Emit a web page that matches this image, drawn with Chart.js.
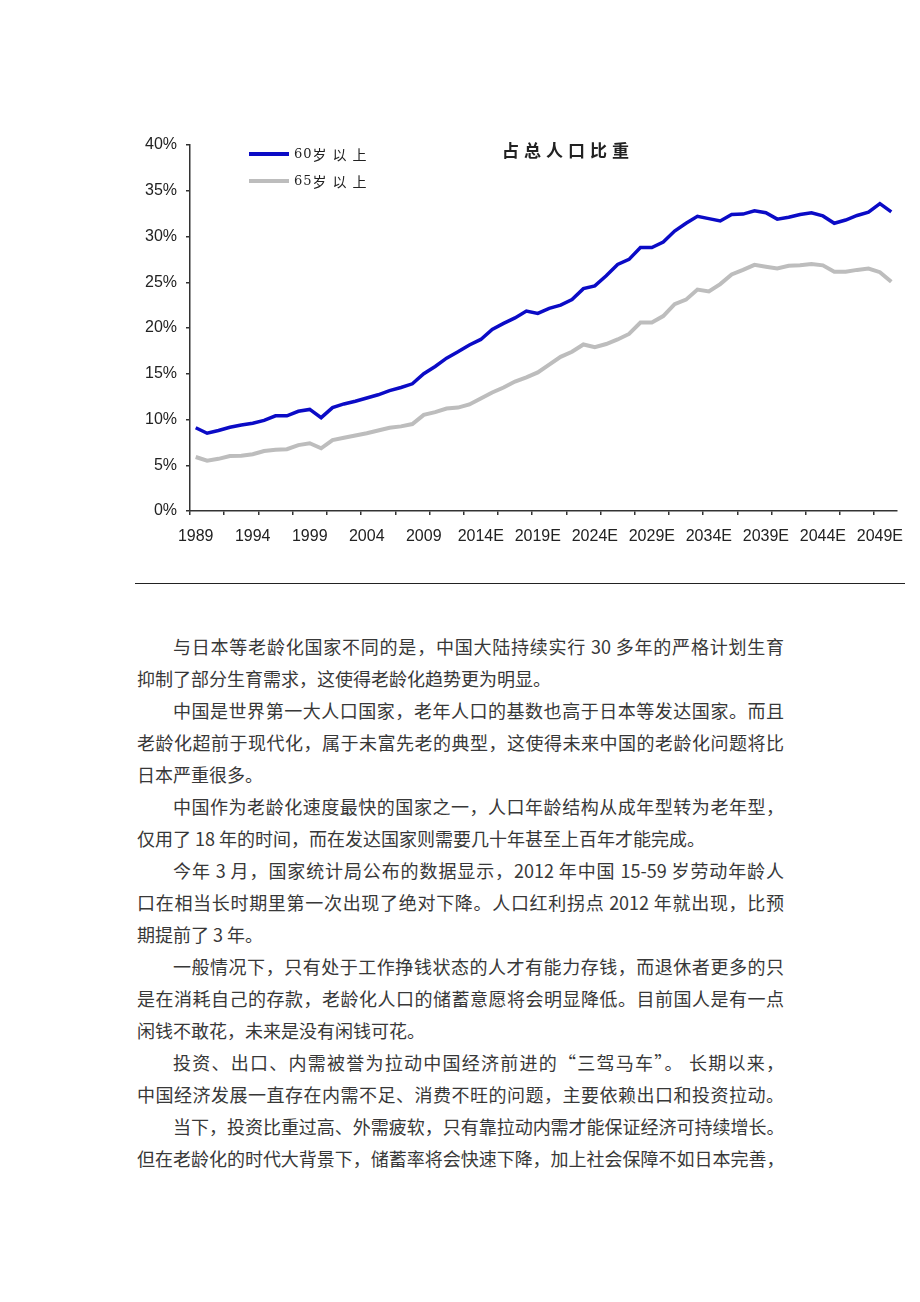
<!DOCTYPE html>
<html lang="zh-CN">
<head>
<meta charset="utf-8">
<title>占总人口比重</title>
<script src="https://cdn.jsdelivr.net/npm/chart.js@4.4.1/dist/chart.umd.min.js"></script>
<style>
  html, body { margin: 0; padding: 0; background: #fff; }
  body { width: 920px; height: 1302px; position: relative; overflow: hidden; font-family: "Noto Sans CJK SC", sans-serif; }
  #chartBox { position: absolute; left: 0; top: 0; width: 920px; height: 570px; }
  .title { position: absolute; left: 502px; top: 138px; font-size: 17px; font-weight: 700; letter-spacing: 5px; color: #222; line-height: 24px; }
  .legend { position: absolute; left: 249px; top: 140px; font-size: 14px; color: #222; }
  .legend .item { height: 27px; display: flex; align-items: center; }
  .legend .swatch { width: 40px; height: 4px; margin-right: 5px; }
  .legend .num { letter-spacing: 1px; font-family: "DejaVu Serif", serif; font-size: 13px; }
  .legend .txt { letter-spacing: 6px; }
  .rule { position: absolute; left: 135px; top: 583px; width: 770px; border-top: 1.5px solid #222; }
  .article { position: absolute; left: 137px; top: 630px; width: 647px; font-size: 18px; line-height: 32px; color: #383838; }
  .article .in { text-indent: 2em; }
  .article .full { text-align: justify; text-align-last: justify; }
  .article .tight { letter-spacing: -0.4px; }
</style>
</head>
<body>
<div id="chartBox"><canvas id="chart" width="920" height="570" style="width:920px;height:570px"></canvas></div>
<div class="title">占总人口比重</div>
<div class="legend" id="legend"></div>
<div class="rule"></div>

<div class="article">
  <div class="in full">与日本等老龄化国家不同的是，中国大陆持续实行 30 多年的严格计划生育</div>
  <div>抑制了部分生育需求，这使得老龄化趋势更为明显。</div>
  <div class="in full">中国是世界第一大人口国家，老年人口的基数也高于日本等发达国家。而且</div>
  <div class="full">老龄化超前于现代化，属于未富先老的典型，这使得未来中国的老龄化问题将比</div>
  <div>日本严重很多。</div>
  <div class="in full">中国作为老龄化速度最快的国家之一，人口年龄结构从成年型转为老年型，</div>
  <div>仅用了 18 年的时间，而在发达国家则需要几十年甚至上百年才能完成。</div>
  <div class="in full">今年 3 月，国家统计局公布的数据显示，2012 年中国 15-59 岁劳动年龄人</div>
  <div class="full">口在相当长时期里第一次出现了绝对下降。人口红利拐点 2012 年就出现，比预</div>
  <div>期提前了 3 年。</div>
  <div class="in full">一般情况下，只有处于工作挣钱状态的人才有能力存钱，而退休者更多的只</div>
  <div class="full">是在消耗自己的存款，老龄化人口的储蓄意愿将会明显降低。目前国人是有一点</div>
  <div>闲钱不敢花，未来是没有闲钱可花。</div>
  <div class="in full">投资、出口、内需被誉为拉动中国经济前进的“三驾马车”。 长期以来，</div>
  <div class="full">中国经济发展一直存在内需不足、消费不旺的问题，主要依赖出口和投资拉动。</div>
  <div class="in full tight">当下，投资比重过高、外需疲软，只有靠拉动内需才能保证经济可持续增长。</div>
  <div class="full tight">但在老龄化的时代大背景下，储蓄率将会快速下降，加上社会保障不如日本完善，</div>
</div>

<script>
// categories: 1989 - 2050, forecasts marked with E
const years = [
  '1989', '1990', '1991', '1992', '1993', '1994', '1995', '1996', '1997', '1998',
  '1999', '2000', '2001', '2002', '2003', '2004', '2005', '2006', '2007', '2008',
  '2009', '2010', '2011', '2012', '2013', '2014E', '2015E', '2016E', '2017E', '2018E',
  '2019E', '2020E', '2021E', '2022E', '2023E', '2024E', '2025E', '2026E', '2027E', '2028E',
  '2029E', '2030E', '2031E', '2032E', '2033E', '2034E', '2035E', '2036E', '2037E', '2038E',
  '2039E', '2040E', '2041E', '2042E', '2043E', '2044E', '2045E', '2046E', '2047E', '2048E',
  '2049E', '2050E'
];

// share of total population, %
const over60 = [
  9.1, 8.5, 8.8, 9.15, 9.4, 9.6, 9.9, 10.4, 10.4, 10.9,
  11.1, 10.2, 11.3, 11.7, 12.0, 12.35, 12.7, 13.15, 13.5, 13.9,
  15.0, 15.8, 16.7, 17.4, 18.15, 18.75, 19.85, 20.5, 21.1, 21.85,
  21.6, 22.15, 22.5, 23.1, 24.3, 24.6, 25.7, 26.95, 27.5, 28.8,
  28.8, 29.4, 30.6, 31.45, 32.2, 31.95, 31.7, 32.4, 32.45, 32.8,
  32.6, 31.9, 32.1, 32.4, 32.6, 32.25, 31.45, 31.8, 32.3, 32.65,
  33.6, 32.7
];

const over65 = [
  5.9, 5.5, 5.7, 6.0, 6.05, 6.2, 6.55, 6.7, 6.75, 7.2,
  7.4, 6.85, 7.75, 8.0, 8.25, 8.5, 8.8, 9.1, 9.25, 9.5,
  10.5, 10.8, 11.2, 11.3, 11.65, 12.3, 12.95, 13.5, 14.15, 14.6,
  15.15, 16.0, 16.85, 17.4, 18.2, 17.9, 18.25, 18.75, 19.35, 20.6,
  20.6, 21.3, 22.6, 23.1, 24.2, 24.0, 24.8, 25.85, 26.35, 26.9,
  26.7, 26.5, 26.8, 26.85, 27.0, 26.85, 26.15, 26.15, 26.35, 26.5,
  26.1, 25.05
];

const seriesNames = ['60岁以上', '65岁以上'];
const seriesColors = ['#0b0bc6', '#bdbdbd'];

const axisColor = '#333';
const tickFont = { family: '"Liberation Sans", Arial, sans-serif', size: 16 };

const chart = new Chart(document.getElementById('chart'), {
  type: 'line',
  data: {
    labels: years,
    datasets: [
      { label: seriesNames[0], data: over60, borderColor: seriesColors[0], borderWidth: 3.5, pointRadius: 0, tension: 0 },
      { label: seriesNames[1], data: over65, borderColor: seriesColors[1], borderWidth: 4, pointRadius: 0, tension: 0 }
    ]
  },
  options: {
    animation: false,
    responsive: false,
    maintainAspectRatio: false,
    layout: { padding: { top: 145, right: 23, bottom: 0, left: 0 } },
    plugins: { legend: { display: false }, tooltip: { enabled: false } },
    scales: {
      x: {
        offset: true,
        grid: {
          offset: true,
          drawOnChartArea: false,
          tickLength: 4,
          lineWidth: 1.5,
          color: c => c.index % 3 === 0 ? axisColor : 'rgba(0,0,0,0)'
        },
        border: { color: axisColor, width: 1.5 },
        ticks: {
          autoSkip: false, maxRotation: 0, minRotation: 0,
          padding: 12, color: '#222', font: tickFont,
          callback: (v, i) => i % 5 === 0 ? years[i] : ''
        },
        afterFit: s => { s.height = 59 }
      },
      y: {
        min: 0, max: 40,
        grid: { drawOnChartArea: false, tickLength: 4, lineWidth: 1.5, color: axisColor },
        border: { color: axisColor, width: 1.5 },
        ticks: { stepSize: 5, padding: 9, color: '#222', font: tickFont, callback: v => v + '%' },
        afterFit: s => { s.width = 190 }
      }
    }
  }
});

// legend in the top left of the plot
const legend = document.getElementById('legend');
chart.data.datasets.forEach(ds => {
  const item = document.createElement('div');
  item.className = 'item';
  const m = ds.label.match(/^(\d+)(.*)$/);
  item.innerHTML = '<span class="swatch" style="background:' + ds.borderColor + '"></span>' +
    '<span class="num">' + m[1] + '</span><span class="txt">' + m[2] + '</span>';
  legend.appendChild(item);
});
</script>
</body>
</html>
